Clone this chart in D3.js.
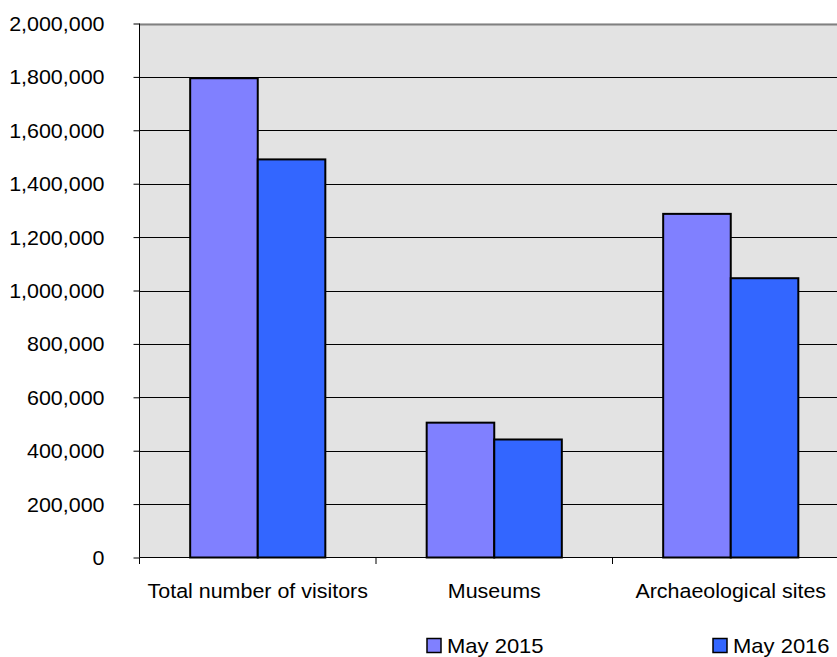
<!DOCTYPE html>
<html><head><meta charset="utf-8">
<script src="https://cdn.jsdelivr.net/npm/d3@7"></script>
<style>body{margin:0;background:#fff;overflow:hidden}text{font-family:"Liberation Sans",Arial,sans-serif;fill:#000}</style>
</head><body><svg id="c" width="837" height="657"></svg>
<script>
const categories = ["Total number of visitors", "Museums", "Archaeological sites"];
const seriesNames = ["May 2015", "May 2016"];
const may2015 = [1795000, 505000, 1287000];
const may2016 = [1491000, 442000, 1046000];
const yTicks = [0, 200000, 400000, 600000, 800000, 1000000, 1200000, 1400000, 1600000, 1800000, 2000000];
const colors = ["#8080FF", "#3366FF"];

const svg = d3.select("#c");
const L = 139.5, T = 23.5, B = 557.5, W = 709.5;
const x = d3.scaleBand().domain(categories).range([L, L + W]).paddingInner(0).paddingOuter(0);
const x1 = d3.scaleBand().domain(seriesNames).range([0, x.bandwidth()]).paddingInner(0).paddingOuter(0.75);
const y = d3.scaleLinear().domain([0, 2000000]).range([B, T]);
const fmt = d3.format(",");
const FS = 19.5, SX = 1.1;

svg.append("rect").attr("x", L).attr("y", T).attr("width", W).attr("height", B - T).attr("fill", "#E3E3E3");
// gridlines
svg.append("g").selectAll("line").data(yTicks.slice(1)).join("line")
  .attr("x1", L).attr("x2", L + W).attr("y1", d => Math.round(y(d)) + 0.5).attr("y2", d => Math.round(y(d)) + 0.5)
  .attr("stroke", d => d === 2000000 ? "#808080" : "#000").attr("stroke-width", d => d === 2000000 ? 2 : 1);

// bars
const data = categories.map((c, i) => ({c, vals: [may2015[i], may2016[i]]}));
const g = svg.append("g");
data.forEach(d => {
  d.vals.forEach((v, j) => {
    g.append("rect")
      .attr("x", x(d.c) + x1(seriesNames[j]))
      .attr("y", y(v))
      .attr("width", x1.bandwidth())
      .attr("height", B - y(v))
      .attr("fill", colors[j]).attr("stroke", "#000").attr("stroke-width", 2);
  });
});

// y axis
const yAxis = d3.axisLeft(y).tickValues(yTicks).tickFormat(fmt).tickSize(6).tickPadding(30);
const ya = svg.append("g").attr("transform", `translate(${L},0)`).call(yAxis);
ya.select(".domain").attr("stroke", "#000").attr("d", `M0,${T}V${B}`);
ya.selectAll(".tick line").attr("stroke", "#000");
ya.selectAll(".tick text").attr("font-size", FS).attr("fill", "#000")
  .attr("x", null).attr("dy", null).attr("dominant-baseline", null)
  .attr("transform", `translate(-35,7) scale(${SX},1)`);

// x axis
const xAxis = d3.axisBottom(x).tickSize(0).tickFormat(d => d);
const xa = svg.append("g").attr("transform", `translate(0,${B})`).call(xAxis);
xa.select(".domain").attr("stroke", "#000").attr("d", `M${L},0H${L + W}`);
xa.selectAll(".tick text").attr("font-size", FS).attr("y", null).attr("dy", null)
  .attr("transform", `translate(0,40.5) scale(${SX},1)`);
xa.selectAll(".tick line").remove();
const bounds = [L, L + x.bandwidth(), L + 2 * x.bandwidth()];
svg.append("g").selectAll("line").data(bounds).join("line")
  .attr("x1", d => d).attr("x2", d => d).attr("y1", B).attr("y2", B + 6.5).attr("stroke", "#000");

// legend
const legX = [427, 713];
const lg = svg.append("g");
seriesNames.forEach((s, i) => {
  lg.append("rect").attr("x", legX[i]).attr("y", 638.5).attr("width", 14).attr("height", 14)
    .attr("fill", colors[i]).attr("stroke", "#000").attr("stroke-width", 1.5);
  lg.append("text").attr("transform", `translate(${legX[i] + 20},652.5) scale(${SX},1)`)
    .attr("font-size", 20).text(s);
});
</script></body></html>
